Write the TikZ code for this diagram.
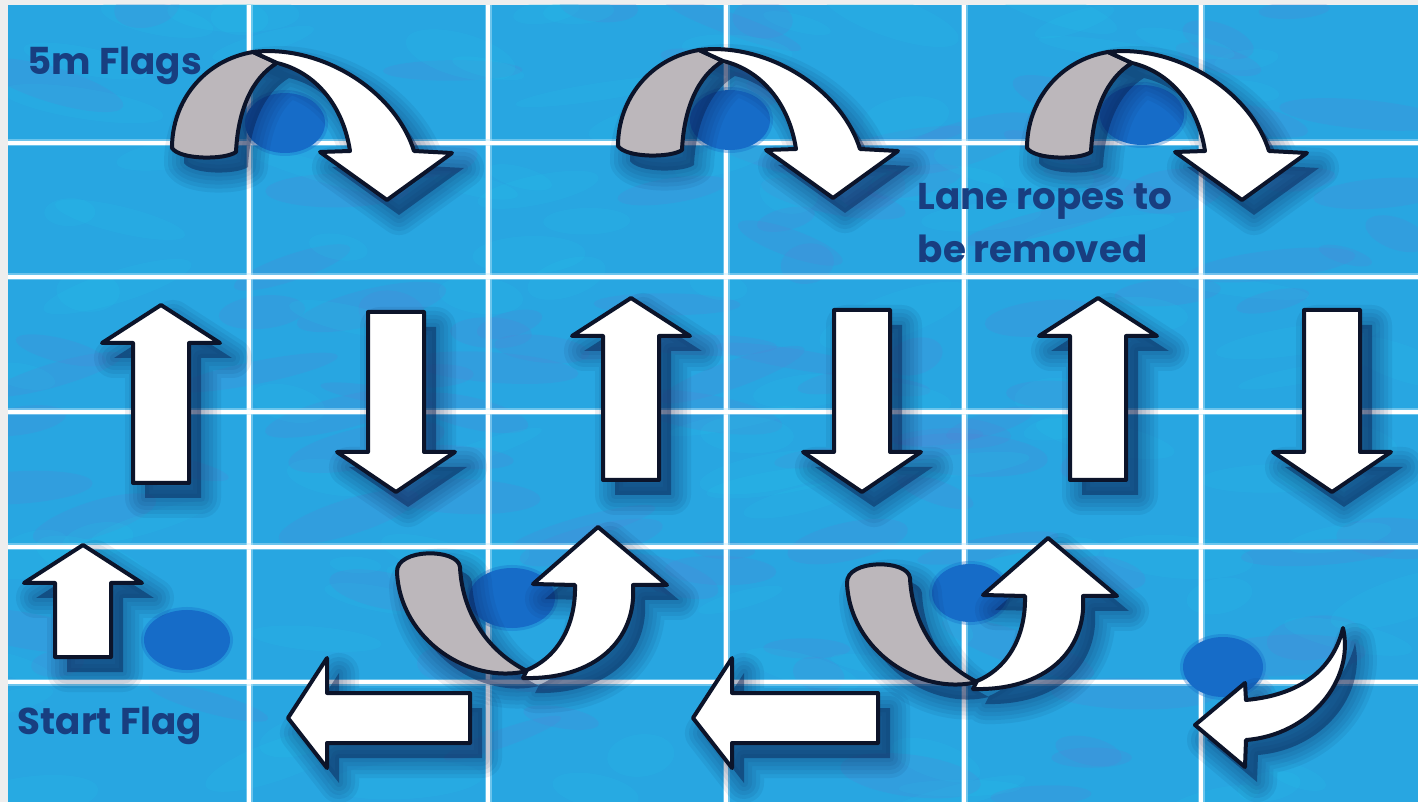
\documentclass[tikz,border=0pt]{standalone}
\usepackage{fontspec}
\newfontfamily\lbl{Poppins}
\definecolor{pool}{RGB}{40,166,225}
\definecolor{poolcyan}{RGB}{36,196,234}
\definecolor{poolpurple}{RGB}{96,122,210}
\definecolor{flag}{RGB}{22,108,200}
\definecolor{ink}{RGB}{24,62,128}
\definecolor{arrowedge}{RGB}{12,20,42}
\definecolor{shadowc}{RGB}{8,28,78}
\definecolor{ribbon}{RGB}{188,183,187}
\definecolor{margin}{RGB}{238,238,238}
\tikzset{
  gridglow/.style={draw=cyan!25!white, line width=0.7mm, opacity=0.45},
  gridline/.style={draw=white, line width=0.32mm},
  frontface/.style={fill=white, draw=arrowedge, line width=0.4mm, line join=round},
  backface/.style={fill=ribbon, draw=arrowedge, line width=0.4mm, line join=round},
  flagdot/.style={fill=flag},
  lbltext/.style={text=ink, font=\lbl\bfseries\fontsize{10.6}{12.6}\selectfont, inner sep=0pt, anchor=base west},
}
% arrow outlines in pixel coordinates (x right, y down)
\newcommand\arrUp[3]{(#1-28,#3) -- (#1-28,#2+38) -- (#1-59,#2+38) -- (#1,#2) -- (#1+59,#2+38) -- (#1+28,#2+38) -- (#1+28,#3) -- cycle}
\newcommand\arrDown[3]{(#1-28,#2) -- (#1+28,#2) -- (#1+28,#3-40) -- (#1+59,#3-40) -- (#1,#3) -- (#1-59,#3-40) -- (#1-28,#3-40) -- cycle}
\newcommand\arrLeft[3]{(#1,#3) -- (#1+39,#3-60) -- (#1+39,#3-25) -- (#2,#3-25) -- (#2,#3+25) -- (#1+39,#3+25) -- (#1+39,#3+50) -- cycle}
\newcommand\arrTopGrey{(253,52) .. controls (205,60) and (172,100) .. (172,148) .. controls (180,160) and (225,160) .. (236,152) .. controls (238,110) and (252,78) .. (277,63) -- cycle}
\newcommand\arrTopWhite{(253,52) .. controls (320,44) and (395,90) .. (414,151) -- (452,153) -- (387,200) -- (320,152) -- (350,151) .. controls (343,105) and (315,72) .. (277,63) -- cycle}
\newcommand\arrJGrey{(460,567) .. controls (462,610) and (485,650) .. (527,671) .. controls (470,685) and (400,640) .. (397,572) .. controls (396,548) and (458,548) .. (460,567) -- cycle}
\newcommand\arrJWhite{(523,678) .. controls (595,680) and (637,640) .. (633,585) -- (667,585) -- (598,527) -- (533,584) -- (575,585) .. controls (576,625) and (558,657) .. (527,670) -- cycle}
\newcommand\arrHook{(1343,628) .. controls (1355,680) and (1310,735) .. (1246,740) -- (1245,767) -- (1195,725) -- (1245,683) -- (1246,700) .. controls (1300,695) and (1333,670) .. (1343,628) -- cycle}
\newcommand\shadowof[1]{%
  \begin{scope}[shift={(12,15)}]
    \foreach \w in {4.0,3.2,2.4,1.6,0.8}{\draw[shadowc, opacity=0.07, line width=\w mm, line join=round] #1;}
    \fill[shadowc, opacity=0.45] #1;
  \end{scope}}
\begin{document}
\begin{tikzpicture}[x=0.1mm,y=-0.1mm]
\useasboundingbox (0,0) rectangle (1418,802);
\fill[margin] (0,0) rectangle (1418,802);
\fill[pool] (8,5) rectangle (1418,802);
% water texture
\begin{scope}
  \clip (8,5) rectangle (1418,802);
  \pgfmathsetseed{11}
  \foreach \i in {1,...,220}{
    \pgfmathsetmacro\px{8+1410*rnd}
    \pgfmathsetmacro\py{5+797*rnd}
    \pgfmathsetmacro\rx{25+60*rnd}
    \pgfmathsetmacro\ry{8+14*rnd}
    \pgfmathsetmacro\rt{-20+40*rnd}
    \pgfmathtruncatemacro\kk{rnd*2}
    \ifnum\kk=0 \def\col{poolpurple}\else\def\col{poolcyan}\fi
    \fill[\col, opacity=0.16, rotate around={\rt:(\px,\py)}] (\px,\py) ellipse [x radius=\rx, y radius=\ry];
  }
\end{scope}
% lane grid
\foreach \x in {249,488,726,964,1201}{\draw[gridglow] (\x,5) -- (\x,802); \draw[gridline] (\x,5) -- (\x,802);}
\foreach \y in {143,277,412,547,682}{\draw[gridglow] (8,\y) -- (1418,\y); \draw[gridline] (8,\y) -- (1418,\y);}
% flags
\foreach \fx/\fy/\frx/\fry in {285/123/40/30, 730/120/40/30, 1142/115/42/30, 187/640/43/30, 512/598/43/30, 970/593/38/29, 1223/667/40/30}{
  \fill[flag, opacity=0.35] (\fx,\fy) ellipse [x radius=\frx+3, y radius=\fry+3];
  \fill[flagdot] (\fx,\fy) ellipse [x radius=\frx, y radius=\fry];
}
% shadows
\foreach \sx/\sy in {0/0, 446/-2, 855/0}{
  \begin{scope}[shift={(\sx,\sy)}]\shadowof{\arrTopGrey \arrTopWhite}\end{scope}}
\foreach \sx/\sy in {0/0, 450/11}{
  \begin{scope}[shift={(\sx,\sy)}]\shadowof{\arrJGrey \arrJWhite}\end{scope}}
\shadowof{\arrHook}
\shadowof{\arrUp{161}{305}{483}}
\shadowof{\arrUp{631}{298}{480}}
\shadowof{\arrUp{1098}{298}{480}}
\shadowof{\arrDown{396}{312}{492}}
\shadowof{\arrDown{862}{310}{492}}
\shadowof{\arrDown{1332}{310}{492}}
\shadowof{\arrUp{83}{545}{657}}
\shadowof{\arrLeft{288}{470}{718}}
\shadowof{\arrLeft{693}{878}{718}}
% arrows
\foreach \sx/\sy in {0/0, 446/-2, 855/0}{
  \begin{scope}[shift={(\sx,\sy)}]
    \path[backface] \arrTopGrey;
    \path[frontface] \arrTopWhite;
  \end{scope}}
\foreach \sx/\sy in {0/0, 450/11}{
  \begin{scope}[shift={(\sx,\sy)}]
    \path[backface] \arrJGrey;
    \path[frontface] \arrJWhite;
  \end{scope}}
\path[frontface] \arrHook;
\path[frontface] \arrUp{161}{305}{483};
\path[frontface] \arrUp{631}{298}{480};
\path[frontface] \arrUp{1098}{298}{480};
\path[frontface] \arrDown{396}{312}{492};
\path[frontface] \arrDown{862}{310}{492};
\path[frontface] \arrDown{1332}{310}{492};
\path[frontface] \arrUp{83}{545}{657};
\path[frontface] \arrLeft{288}{470}{718};
\path[frontface] \arrLeft{693}{878}{718};
% labels
\node[lbltext] (flags) at (27,75) {5m Flags};
\node[lbltext] (lane1) at (917,210) {Lane ropes to};
\node[lbltext] (lane2) at (917,263) {be removed};
\node[lbltext] (start) at (17,734) {Start Flag};
\end{tikzpicture}
\end{document}
